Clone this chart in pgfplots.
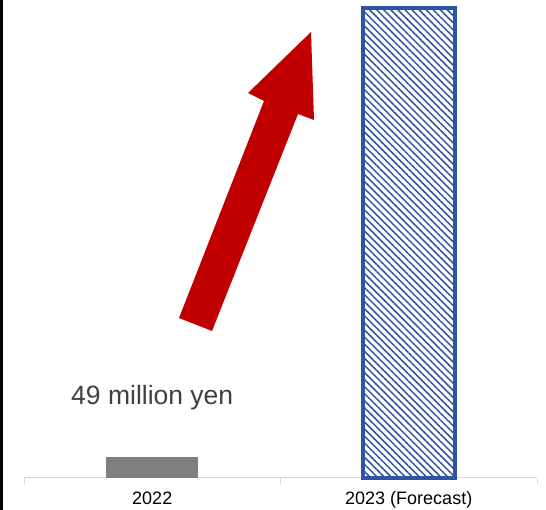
\documentclass[border=0pt]{standalone}
\usepackage{pgfplots}
\pgfplotsset{compat=1.18}
\usepackage{fontspec}
\setmainfont{Liberation Sans}
\usetikzlibrary{patterns.meta}
\definecolor{barblue}{HTML}{2F55A2}
\definecolor{bargray}{HTML}{7F7F7F}
\definecolor{arrowred}{HTML}{C00000}
\definecolor{axisgray}{HTML}{D9D9D9}
\definecolor{txt}{HTML}{404040}
\begin{document}
\begin{tikzpicture}[x=1pt,y=1pt]
\useasboundingbox (0,0) rectangle (546,510);
\fill[black] (0,0) rectangle (2.5,510);
\begin{axis}[
  at={(24pt,32pt)}, anchor=south west,
  width=513pt, height=470pt, scale only axis,
  xmin=-0.5, xmax=1.5, ymin=0, ymax=1100,
  axis x line*=bottom, axis y line=none,
  x axis line style={axisgray, line width=1pt, -},
  xtick={0,1}, xticklabels={2022,2023 (Forecast)},
  major tick length=0pt,
  minor xtick={-0.5,0.5,1.5}, minor tick length=6pt, tick align=outside,
  tick style={axisgray, line width=1pt},
  xticklabel style={font=\fontsize{18}{20}\selectfont, text=black, yshift=-10pt},
  ybar, bar width=92pt, bar shift=0pt,
  clip=false,
]
\addplot[fill=bargray, draw=none] coordinates {(0,49)};
\addplot[draw=barblue, line width=3.5pt, pattern={Lines[angle=-45,distance=5pt,line width=1.5pt]}, pattern color=barblue] coordinates {(1,1100)};
\node[text=txt, font=\fontsize{26.5}{30}\selectfont] at (axis cs:0,189) {49 million yen};
\end{axis}
\fill[arrowred] (179,192) -- (212,179) -- (298,396) -- (314,390) -- (311,478) -- (248,417) -- (264,409) -- cycle;
\end{tikzpicture}
\end{document}
